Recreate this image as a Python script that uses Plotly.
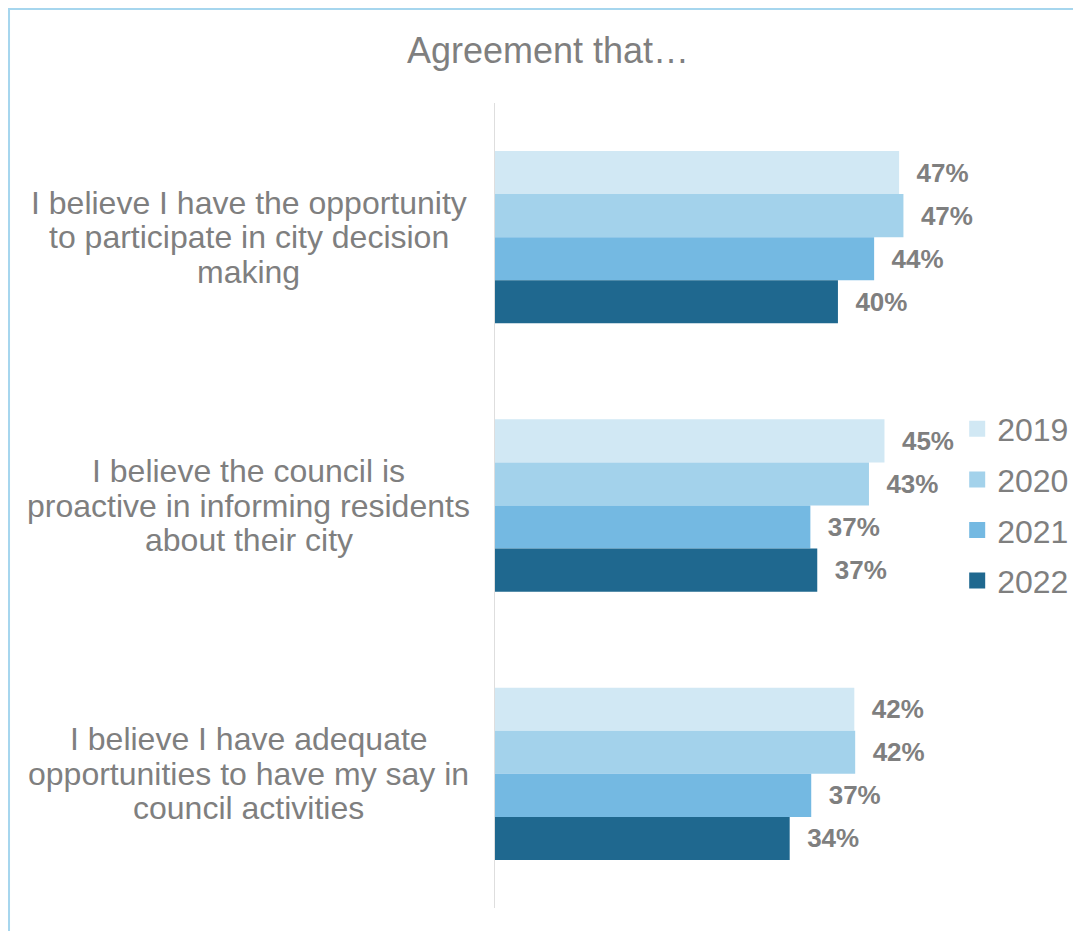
import plotly.graph_objects as go

# survey statements (top to bottom), lines split with <br>
statements = [
    "I believe I have the opportunity<br>to participate in city decision<br>making",
    "I believe the council is<br>proactive in informing residents<br>about their city",
    "I believe I have adequate<br>opportunities to have my say in<br>council activities",
]

years = ["2019", "2020", "2021", "2022"]
colors = ["#d1e8f4", "#a3d2eb", "#74b9e2", "#1f688f"]

# agreement % per year, same order as statements
vals_2019 = [46.9, 45.2, 41.7]
vals_2020 = [47.4, 43.4, 41.8]
vals_2021 = [44.0, 36.6, 36.7]
vals_2022 = [39.8, 37.4, 34.2]
series = [vals_2019, vals_2020, vals_2021, vals_2022]

grey = "#7f7f7f"
font_name = "Liberation Sans, Arial, sans-serif"

fig = go.Figure()
for yr, vals, col in zip(years, series, colors):
    fig.add_trace(go.Bar(
        y=statements, x=vals, name=yr, orientation="h",
        marker=dict(color=col, line=dict(width=0)),
        texttemplate="  %{x:.0f}%", textposition="outside",
        textfont=dict(size=26, color=grey, family=font_name, weight="bold"),
        constraintext="none", cliponaxis=False, showlegend=False,
    ))

# legend entries with bigger square swatches
for yr, col in zip(years, colors):
    fig.add_trace(go.Scatter(
        x=[None], y=[None], mode="markers", name=yr, legendgroup=yr,
        marker=dict(symbol="square", size=17, color=col),
    ))

# category labels: one annotation per line so the line spacing stays tight
line_gap = 34.5
for s in statements:
    lines = s.split("<br>")
    mid = (len(lines) - 1) / 2
    for i, ln in enumerate(lines):
        fig.add_annotation(
            x=-0.476, xref="paper", y=s, yref="y", text=ln, showarrow=False,
            xanchor="center", yanchor="middle", yshift=(mid - i) * line_gap,
            font=dict(size=32, color=grey, family=font_name),
        )

# outer frame (only top/left edges visible)
fig.add_shape(type="rect", xref="paper", yref="paper",
              x0=-0.940, x1=1.2, y0=-0.1, y1=1.1168,
              line=dict(color="#a6d6ee", width=2), layer="below")

fig.update_layout(
    width=1081, height=931,
    margin=dict(l=487, r=77, t=95, b=31),
    paper_bgcolor="white", plot_bgcolor="white",
    barmode="group", bargap=0.358, bargroupgap=0,
    title=dict(text="Agreement that…", x=0.4995, y=0.9549, xanchor="center", yanchor="middle",
               font=dict(size=36, color=grey, family=font_name)),
    xaxis=dict(range=[0, 60], showgrid=False, zeroline=False, showticklabels=False,
               showline=False, ticks=""),
    yaxis=dict(autorange="reversed", showgrid=False, showticklabels=False,
               showline=True, linecolor="#dedede", linewidth=1, ticks=""),
    legend=dict(x=0.894, y=0.5006, xanchor="left", yanchor="middle", tracegroupgap=6,
                font=dict(size=32, color=grey, family=font_name),
                bgcolor="rgba(0,0,0,0)", itemwidth=30),
    font=dict(family=font_name, color=grey),
)

fig.write_html("out.html")
